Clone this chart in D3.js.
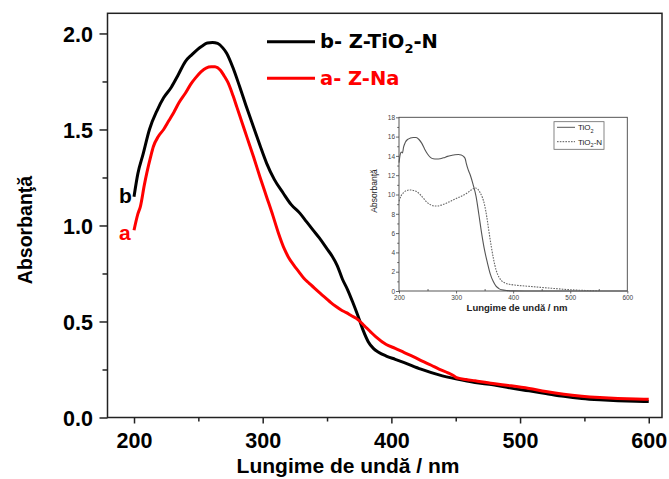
<!DOCTYPE html>
<html>
<head>
<meta charset="utf-8">
<script src="https://cdn.jsdelivr.net/npm/d3@7"></script>
<style>
  html, body { margin: 0; padding: 0; background: #fff; }
  svg { display: block; font-family: "Liberation Sans", Arial, sans-serif; }
</style>
</head>
<body>
<script>
// UV-Vis absorbance spectra: b- Z-TiO2-N (black) and a- Z-Na (red)
const wavelengthB = [200,203,207,212,218,223,229,234,240,245,249,253,257,261,265,269,272,277,282,287,293,298,303,309,316,322,329,334,339,344,350,354,358,362,366,370,374,378,382,386,390,396,403,410,423,437,451,465,479,493,507,520,534,548,562,576,590,600];
const absorbanceB = [1.15,1.27,1.37,1.50,1.60,1.665,1.72,1.78,1.855,1.89,1.915,1.935,1.95,1.953,1.948,1.925,1.897,1.82,1.725,1.625,1.51,1.415,1.325,1.24,1.168,1.11,1.063,1.02,0.977,0.935,0.878,0.84,0.79,0.72,0.665,0.60,0.53,0.455,0.395,0.36,0.34,0.32,0.303,0.286,0.252,0.222,0.2,0.182,0.17,0.153,0.139,0.125,0.11,0.099,0.092,0.087,0.084,0.083];

const wavelengthA = [200,203,205,208,210,213,215,219,223,227,231,235,240,244,248,252,256,260,263,267,270,273,277,280,284,288,293,298,303,308,312,317,320,324,328,332,336,340,345,349,353,357,361,365,369,374,379,384,388,396,403,410,417,424,431,437,444,449,450,452,458,465,479,493,507,520,534,548,562,576,590,600];
const absorbanceA = [0.975,1.06,1.10,1.21,1.275,1.36,1.41,1.465,1.50,1.545,1.59,1.64,1.69,1.735,1.77,1.80,1.82,1.826,1.826,1.81,1.78,1.745,1.675,1.615,1.535,1.455,1.355,1.25,1.15,1.05,0.965,0.875,0.835,0.795,0.76,0.725,0.70,0.675,0.645,0.622,0.598,0.578,0.56,0.546,0.53,0.51,0.478,0.445,0.42,0.38,0.36,0.338,0.317,0.294,0.272,0.252,0.232,0.215,0.21,0.205,0.198,0.191,0.177,0.165,0.151,0.135,0.121,0.111,0.104,0.099,0.096,0.095];

// Inset: TiO2 and TiO2-N reference spectra
const insetWavelengthT = [200,202,204,206,208,211,215,220,225,230,235,240,245,250,255,260,266,272,278,285,292,298,304,309,313,316,318,321,325,330,335,340,345,350,355,360,365,370,375,380,390,400,420,600];
const insetAbsT = [13.3,14.1,14.4,14.3,14.9,15.4,15.7,15.85,15.9,15.9,15.7,15.3,14.7,14.2,13.85,13.7,13.68,13.7,13.8,13.95,14.05,14.12,14.15,14.1,13.95,13.7,13.2,12.6,12.0,11.0,9.8,7.9,5.9,4.2,2.9,1.75,1.0,0.5,0.25,0.12,0.04,0.01,0,0];

const insetWavelengthN = [200,204,208,213,219,225,231,237,243,249,255,261,267,274,283,292,301,310,318,325,330,334,338,342,346,350,354,358,362,366,370,375,380,387,395,405,420,440,460,480,500,520,550];
const insetAbsN = [9.3,9.9,10.2,10.4,10.47,10.42,10.3,10.0,9.6,9.2,8.95,8.82,8.8,8.9,9.1,9.35,9.6,9.85,10.1,10.4,10.6,10.68,10.55,10.2,9.7,8.9,7.6,6.0,4.5,3.2,2.2,1.45,1.05,0.8,0.68,0.6,0.52,0.42,0.32,0.22,0.13,0.07,0.02];

const xTicks = [200, 300, 400, 500, 600];
const xMinorTicks = [250, 350, 450, 550];
const yTicks = [0, 0.5, 1.0, 1.5, 2.0];
const yMinorTicks = [0.25, 0.75, 1.25, 1.75];
const insetYTicks = [0, 2, 4, 6, 8, 10, 12, 14, 16, 18];
const insetYMinorTicks = [1, 3, 5, 7, 9, 11, 13, 15, 17];

const W = 669, H = 479;
const svg = d3.select("body").append("svg").attr("width", W).attr("height", H);

const x = d3.scaleLinear().domain([179.4, 610.3]).range([107.5, 662]);
const y = d3.scaleLinear().domain([0, 2.105]).range([417.5, 13.3]);

const axisColor = "#222";

// frame
svg.append("rect")
  .attr("x", x.range()[0]).attr("y", y.range()[1])
  .attr("width", x.range()[1] - x.range()[0])
  .attr("height", y.range()[0] - y.range()[1])
  .attr("fill", "none").attr("stroke", axisColor).attr("stroke-width", 1.5);

// x axis
const gx = svg.append("g").attr("transform", `translate(0,${y.range()[0]})`)
  .call(d3.axisBottom(x).tickValues(xTicks).tickSize(6).tickSizeOuter(0));
gx.select(".domain").remove();
gx.selectAll(".tick line").attr("stroke", axisColor).attr("stroke-width", 1.5);
gx.selectAll(".tick text").attr("y", 30.5).attr("dy", null)
  .attr("fill", "#000").style("font-size", "21.5px").style("font-weight", "bold");

const gxm = svg.append("g").attr("transform", `translate(0,${y.range()[0]})`)
  .call(d3.axisBottom(x).tickValues(xMinorTicks).tickSize(4).tickFormat(""));
gxm.select(".domain").remove();
gxm.selectAll(".tick line").attr("stroke", axisColor).attr("stroke-width", 1.5);

// y axis
const gy = svg.append("g").attr("transform", `translate(${x.range()[0]},0)`)
  .call(d3.axisLeft(y).tickValues(yTicks).tickSize(8).tickFormat(d3.format(".1f")));
gy.select(".domain").remove();
gy.selectAll(".tick line").attr("stroke", axisColor).attr("stroke-width", 1.5);
gy.selectAll(".tick text").attr("x", -14.5).attr("dy", "0.36em")
  .attr("fill", "#000").style("font-size", "21.5px").style("font-weight", "bold");

const gym = svg.append("g").attr("transform", `translate(${x.range()[0]},0)`)
  .call(d3.axisLeft(y).tickValues(yMinorTicks).tickSize(5).tickFormat(""));
gym.select(".domain").remove();
gym.selectAll(".tick line").attr("stroke", axisColor).attr("stroke-width", 1.5);

// axis titles
svg.append("text").attr("x", 348).attr("y", 473)
  .attr("text-anchor", "middle").style("font-size", "21px").style("font-weight", "bold")
  .text("Lungime de undă / nm");
svg.append("text").attr("transform", "translate(32,230) rotate(-90)")
  .attr("text-anchor", "middle").style("font-size", "19.5px").style("font-weight", "bold")
  .text("Absorbanţă");

// spectra
const lineB = d3.line().x((d, i) => x(wavelengthB[i])).y(d => y(d)).curve(d3.curveMonotoneX);
const lineA = d3.line().x((d, i) => x(wavelengthA[i])).y(d => y(d)).curve(d3.curveMonotoneX);

svg.append("path").datum(absorbanceB).attr("d", lineB)
  .attr("fill", "none").attr("stroke", "#000").attr("stroke-width", 3).attr("stroke-linejoin", "round");
svg.append("path").datum(absorbanceA).attr("d", lineA)
  .attr("fill", "none").attr("stroke", "#ff0000").attr("stroke-width", 3).attr("stroke-linejoin", "round");

// curve tags
svg.append("text").attr("x", 119).attr("y", 203).style("font-size", "21px").style("font-weight", "bold")
  .attr("fill", "#000").text("b");
svg.append("text").attr("x", 119).attr("y", 240).style("font-size", "21px").style("font-weight", "bold")
  .attr("fill", "#ff0000").text("a");

// legend
const legend = svg.append("g");
const legendItems = [
  { color: "#000", y: 41.7, parts: [["b- Z-TiO", 0], ["2", 1], ["-N", 0]] },
  { color: "#ff0000", y: 78.3, parts: [["a- Z-Na", 0]] }
];
legendItems.forEach(item => {
  legend.append("line").attr("x1", 267).attr("x2", 315).attr("y1", item.y).attr("y2", item.y)
    .attr("stroke", item.color).attr("stroke-width", 3);
  const t = legend.append("text").attr("x", 320).attr("y", item.y + 6.5)
    .attr("fill", item.color)
    .style("font-family", "'DejaVu Sans', sans-serif")
    .style("font-size", "19.5px").style("font-weight", "bold");
  let shifted = false;
  item.parts.forEach(([s, sub]) => {
    const ts = t.append("tspan").text(s);
    if (sub) { ts.attr("dy", 5).style("font-size", "13px"); shifted = true; }
    else if (shifted) { ts.attr("dy", -5); shifted = false; }
  });
});

// ---- inset ----
const ix = d3.scaleLinear().domain([200, 600]).range([399, 627.3]);
const iy = d3.scaleLinear().domain([0, 18]).range([291, 117.3]);
const inset = svg.append("g");
const insetColor = "#444";

inset.append("rect")
  .attr("x", ix.range()[0]).attr("y", iy.range()[1])
  .attr("width", ix.range()[1] - ix.range()[0])
  .attr("height", iy.range()[0] - iy.range()[1])
  .attr("fill", "#fff").attr("stroke", insetColor).attr("stroke-width", 0.9);

const igx = inset.append("g").attr("transform", `translate(0,${iy.range()[0]})`)
  .call(d3.axisBottom(ix).tickValues(xTicks).tickSize(2.5).tickSizeOuter(0));
igx.select(".domain").remove();
igx.selectAll(".tick line").attr("stroke", insetColor).attr("stroke-width", 0.8);
igx.selectAll(".tick text").attr("y", 8.5).attr("dy", null)
  .attr("fill", "#444").style("font-size", "6.5px");
const igxm = inset.append("g").attr("transform", `translate(0,${iy.range()[0]})`)
  .call(d3.axisBottom(ix).tickValues(xMinorTicks).tickSize(-2).tickFormat(""));
igxm.select(".domain").remove();
igxm.selectAll(".tick line").attr("stroke", insetColor).attr("stroke-width", 0.8);

const igy = inset.append("g").attr("transform", `translate(${ix.range()[0]},0)`)
  .call(d3.axisLeft(iy).tickValues(insetYTicks).tickSize(3).tickFormat(d3.format("d")));
igy.select(".domain").remove();
igy.selectAll(".tick line").attr("stroke", insetColor).attr("stroke-width", 0.8);
igy.selectAll(".tick text").attr("x", -4).attr("dy", "0.35em")
  .attr("fill", "#444").style("font-size", "6.5px");
const igym = inset.append("g").attr("transform", `translate(${ix.range()[0]},0)`)
  .call(d3.axisLeft(iy).tickValues(insetYMinorTicks).tickSize(1.8).tickFormat(""));
igym.select(".domain").remove();
igym.selectAll(".tick line").attr("stroke", insetColor).attr("stroke-width", 0.8);

inset.append("text").attr("x", 517).attr("y", 311)
  .attr("text-anchor", "middle").style("font-size", "9.5px").style("font-weight", "bold")
  .attr("fill", "#222").text("Lungime de undă / nm");
inset.append("text").attr("transform", "translate(377,191) rotate(-90)")
  .attr("text-anchor", "middle").style("font-size", "8.5px")
  .attr("fill", "#222").text("Absorbanţă");

const lineT = d3.line().x((d, i) => ix(insetWavelengthT[i])).y(d => iy(d)).curve(d3.curveMonotoneX);
const lineN = d3.line().x((d, i) => ix(insetWavelengthN[i])).y(d => iy(d)).curve(d3.curveMonotoneX);
inset.append("path").datum(insetAbsT).attr("d", lineT)
  .attr("fill", "none").attr("stroke", "#555").attr("stroke-width", 1.1);
inset.append("path").datum(insetAbsN).attr("d", lineN)
  .attr("fill", "none").attr("stroke", "#666").attr("stroke-width", 1.1).attr("stroke-dasharray", "1.6,1.2");

// inset legend
const il = inset.append("g");
il.append("rect").attr("x", 554).attr("y", 121.7).attr("width", 50).attr("height", 27.6)
  .attr("fill", "#fff").attr("stroke", "#666").attr("stroke-width", 0.8);
const insetLegend = [
  { y: 127.3, dash: null, parts: [["TiO", 0], ["2", 1]] },
  { y: 141.7, dash: "1.6,1.2", parts: [["TiO", 0], ["2", 1], ["-N", 0]] }
];
insetLegend.forEach(item => {
  const ln = il.append("line").attr("x1", 557).attr("x2", 575).attr("y1", item.y).attr("y2", item.y)
    .attr("stroke", "#555").attr("stroke-width", 1);
  if (item.dash) ln.attr("stroke-dasharray", item.dash);
  const t = il.append("text").attr("x", 578).attr("y", item.y + 3)
    .attr("fill", "#222").style("font-size", "8px");
  let shifted = false;
  item.parts.forEach(([s, sub]) => {
    const ts = t.append("tspan").text(s);
    if (sub) { ts.attr("dy", 2.2).style("font-size", "5.5px"); shifted = true; }
    else if (shifted) { ts.attr("dy", -2.2); shifted = false; }
  });
});
</script>
</body>
</html>
